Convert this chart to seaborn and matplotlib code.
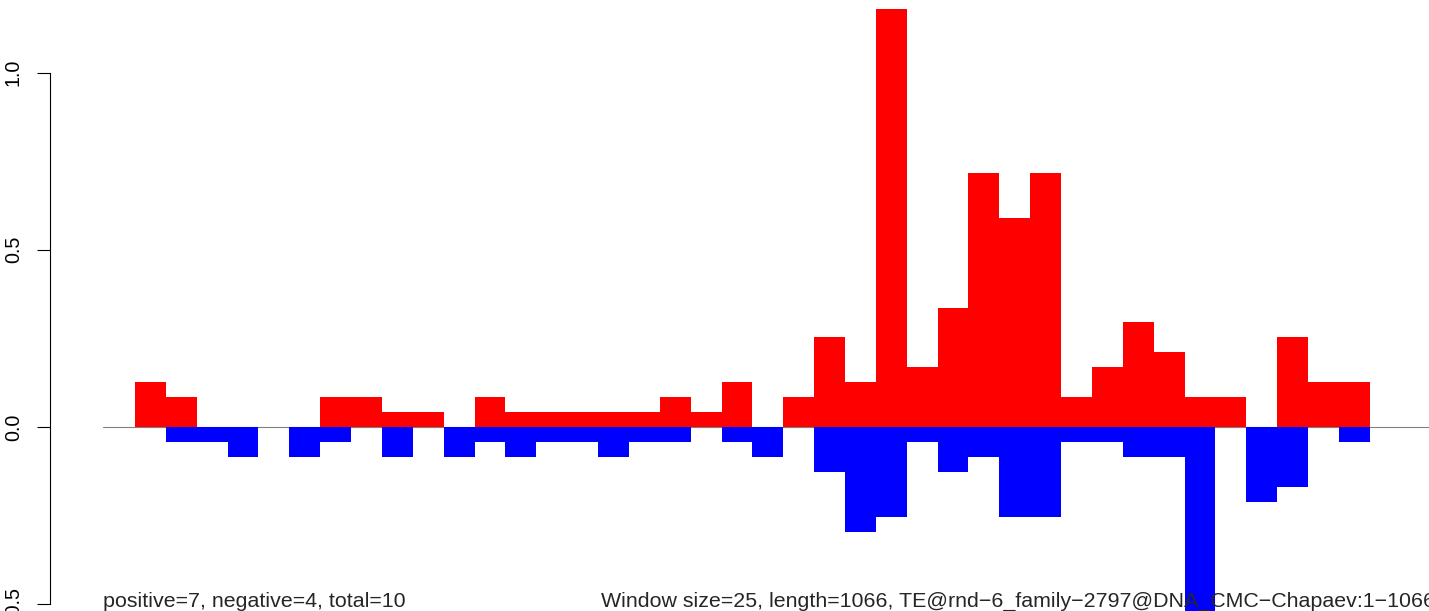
import matplotlib
matplotlib.use("Agg")
import matplotlib.pyplot as plt
import numpy as np
import pandas as pd
import seaborn as sns

# windows of 25 bp along a 1066 bp element
windows = list(range(43))
positive = [0.126, 0.084, 0, 0, 0, 0, 0.084, 0.084, 0.042, 0.042,
            0, 0.084, 0.042, 0.042, 0.042, 0.042, 0.042, 0.084, 0.042, 0.126,
            0, 0.084, 0.253, 0.126, 1.18, 0.168, 0.337, 0.716, 0.59, 0.716,
            0.084, 0.168, 0.295, 0.211, 0.084, 0.084, 0, 0.253, 0.126, 0.126,
            0, 0, 0]
negative = [0, -0.042, -0.042, -0.084, 0, -0.084, -0.042, 0, -0.084, 0,
            -0.084, -0.042, -0.084, -0.042, -0.042, -0.084, -0.042, -0.042, 0, -0.042,
            -0.084, 0, -0.126, -0.295, -0.253, -0.042, -0.126, -0.084, -0.253, -0.253,
            -0.042, -0.042, -0.084, -0.084, -0.59, 0, -0.211, -0.168, 0, -0.042,
            0, 0, 0]
y_ticks = [-0.5, 0.0, 0.5, 1.0]
left_text = "positive=7, negative=4, total=10"
right_text = "Window size=25, length=1066, TE@rnd\u22126_family\u22122797@DNA_CMC\u2212Chapaev:1\u22121066"

df = pd.DataFrame({"window": windows, "pos": positive, "neg": negative})

sns.set_style("white")
plt.rcParams['font.family'] = ['Liberation Sans', 'DejaVu Sans']
plt.rcParams['axes.unicode_minus'] = True

W, H = 1429, 611
fig = plt.figure(figsize=(W / 100, H / 100), dpi=100)

# pixel layout of the reference
bar0_left, bar_w, ax_left_px = 135, 30.87, 103
zero_px, unit_px = 427, 354.5
x_lo = -0.5 - (bar0_left - ax_left_px) / bar_w
x_hi = len(windows) - 0.5 + (bar0_left - ax_left_px) / bar_w
ax_right_px = bar0_left + (x_hi + 0.5) * bar_w
ax = fig.add_axes([ax_left_px / W, 0, (ax_right_px - ax_left_px) / W, 1])

sns.barplot(data=df, x="window", y="pos", color="#ff0000", saturation=1,
            width=1, linewidth=0, ax=ax, zorder=2)
sns.barplot(data=df, x="window", y="neg", color="#0000ff", saturation=1,
            width=1, linewidth=0, ax=ax, zorder=2)
ax.axhline(0, color="#808080", lw=0.8, zorder=1)

ax.set_xlim(x_lo, x_hi)
ax.set_ylim(-(H - zero_px) / unit_px, zero_px / unit_px)
ax.set_xlabel("")
ax.set_ylabel("")
ax.set_xticks([])
ax.set_yticks(y_ticks)
ax.set_yticklabels([f"{v:.1f}" for v in y_ticks])
for s in ["top", "right", "bottom"]:
    ax.spines[s].set_visible(False)
ax.spines["left"].set_position(("outward", (ax_left_px - 50) * 0.72))
ax.spines["left"].set_bounds(-0.5, 1.0)
ax.spines["left"].set_linewidth(0.8)
ax.spines["left"].set_color("black")
ax.tick_params(axis="y", direction="out", length=9.6, width=0.8, pad=10,
               labelsize=14.2, labelrotation=90, colors="black", left=True)
for lab in ax.get_yticklabels():
    lab.set_va("center")

fig.text(103 / W, (H - 606.7) / H, left_text, fontsize=15.4, ha="left",
         va="baseline", zorder=5)
fig.text(601 / W, (H - 606.7) / H, right_text, fontsize=15.4, ha="left",
         va="baseline", zorder=5)

fig.savefig("out.png", dpi=100)
